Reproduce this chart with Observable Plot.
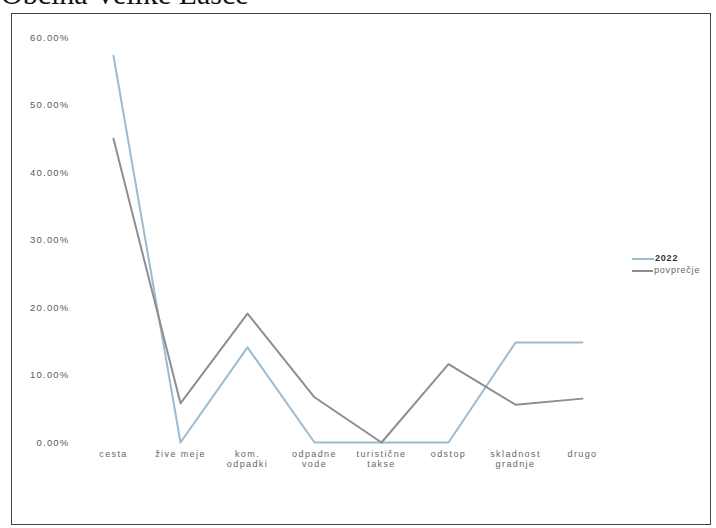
<!DOCTYPE html>
<html>
<head>
<meta charset="utf-8">
<script src="https://cdn.jsdelivr.net/npm/d3@7"></script>
<script src="https://cdn.jsdelivr.net/npm/@observablehq/plot@0.6"></script>
<style>
  html, body { margin: 0; padding: 0; background: #fff; }
  #wrap { position: relative; width: 716px; height: 528px; overflow: hidden; background: #fff; }
  #title { position: absolute; left: 1px; top: -21px; font-family: "Liberation Serif", "Times New Roman", serif; font-size: 30px; color: #111; white-space: nowrap; line-height: 1; }
  #frame { position: absolute; left: 11px; top: 13px; width: 700px; height: 512px; border: 1.5px solid #444; box-sizing: border-box; }
  #chart { position: absolute; left: 0; top: 0; }
  #chart g[aria-label="y-axis tick label"] text { letter-spacing: 1.2px; }
  #chart g[aria-label="x-axis tick label"] text { letter-spacing: 1.4px; }
  .leg { position: absolute; font-family: "Liberation Sans", Arial, sans-serif; font-size: 9px; white-space: nowrap; letter-spacing: 0.8px; }
  .sw { position: absolute; height: 2px; }
</style>
</head>
<body>
<div id="wrap">
  <div id="title">Občina Velike Lašče</div>
  <div id="frame"></div>
  <div id="chart"></div>
  <div class="sw" style="left:632px; top:258px; width:22px; background:#9bbbd0;"></div>
  <div class="leg" style="left:655px; top:253px; color:#333; font-weight:bold;">2022</div>
  <div class="sw" style="left:632px; top:270px; width:21px; background:#8e8e8e;"></div>
  <div class="leg" style="left:654px; top:265px; color:#666;">povprečje</div>
</div>
<script>
const categories = ["cesta", "žive meje", "kom. odpadki", "odpadne vode", "turistične takse", "odstop", "skladnost gradnje", "drugo"];
const tickLabels = ["cesta", "žive meje", "kom.\nodpadki", "odpadne\nvode", "turistične\ntakse", "odstop", "skladnost\ngradnje", "drugo"];
const values2022 = [57.3, 0, 14.1, 0, 0, 0, 14.8, 14.8];
const valuesPovprecje = [45.0, 5.8, 19.1, 6.7, 0, 11.6, 5.6, 6.5];
const yTicks = [0, 10, 20, 30, 40, 50, 60];
const seriesNames = ["2022", "povprečje"];
const seriesColors = ["#9bbbd0", "#8e8e8e"];

const data = [];
categories.forEach((c, i) => {
  data.push({cat: c, value: values2022[i], series: seriesNames[0]});
  data.push({cat: c, value: valuesPovprecje[i], series: seriesNames[1]});
});
const labelOf = new Map(categories.map((c, i) => [c, tickLabels[i]]));

const chart = Plot.plot({
  width: 716,
  height: 528,
  marginLeft: 110,
  marginRight: 132,
  marginTop: 37,
  marginBottom: 86,
  style: {background: "transparent", fontFamily: "Liberation Sans, Arial, sans-serif"},
  x: {type: "point", domain: categories, padding: 0},
  y: {domain: [0, 60]},
  color: {domain: seriesNames, range: seriesColors},
  marks: [
    Plot.axisY({ticks: yTicks, tickSize: 0, tickPadding: 41, tickFormat: d => d.toFixed(2) + "%", fontSize: 9.5, fill: "#5a5a5a", label: null}),
    Plot.axisX({tickSize: 0, tickPadding: 7, tickFormat: d => labelOf.get(d), fontSize: 9, fill: "#666", lineHeight: 1.15, label: null}),
    Plot.line(data, {x: "cat", y: "value", z: "series", stroke: "series", strokeWidth: 2})
  ]
});
document.getElementById("chart").appendChild(chart);
</script>
</body>
</html>
